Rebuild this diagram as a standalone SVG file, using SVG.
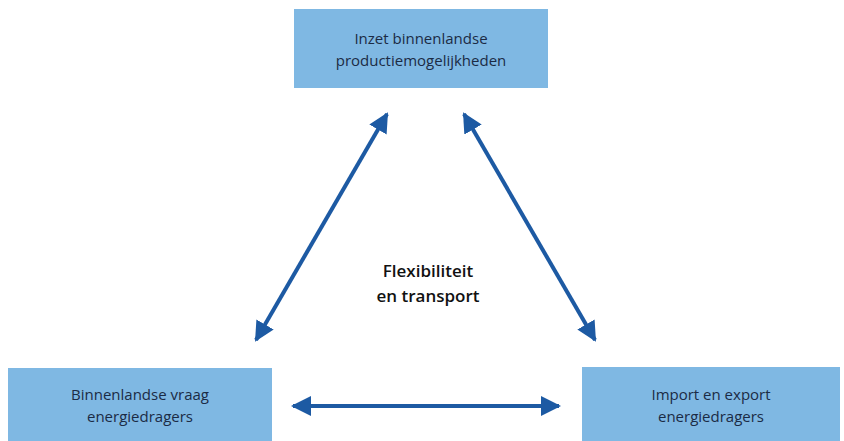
<svg xmlns="http://www.w3.org/2000/svg" width="844" height="441" viewBox="0 0 844 441">
<style>
.box{fill:#7fb8e3;}
.t{font-family:"Open Sans","Liberation Sans",sans-serif;font-size:15px;fill:#1b2b45;text-anchor:middle;}
.c{font-family:"Open Sans","Liberation Sans",sans-serif;font-size:17px;font-weight:600;fill:#111;text-anchor:middle;}
.ln{stroke:#1d5aa3;stroke-width:4;fill:none;marker-start:url(#ah);marker-end:url(#ah);}
</style>
<defs>
<marker id="ah" viewBox="0 0 10 10" refX="9" refY="5" markerWidth="5" markerHeight="5" orient="auto-start-reverse" markerUnits="strokeWidth">
<path d="M0,0 L10,5 L0,10 z" fill="#1d5aa3"/>
</marker>
</defs>
<rect width="844" height="441" fill="#fff"/>
<g id="top">
<rect class="box" x="294" y="9" width="254" height="79"/>
<text class="t" x="421" y="44">Inzet binnenlandse</text>
<text class="t" x="421" y="66">productiemogelijkheden</text>
</g>
<g id="left">
<rect class="box" x="8" y="368" width="264" height="73"/>
<text class="t" x="140" y="400">Binnenlandse vraag</text>
<text class="t" x="140" y="422">energiedragers</text>
</g>
<g id="right">
<rect class="box" x="582" y="367" width="258" height="74"/>
<text class="t" x="711" y="400">Import en export</text>
<text class="t" x="711" y="422">energiedragers</text>
</g>
<g id="center">
<text class="c" x="428" y="277">Flexibiliteit</text>
<text class="c" x="428" y="302">en transport</text>
</g>
<g id="connectors">
<line class="ln" x1="256" y1="340" x2="387" y2="114"/>
<line class="ln" x1="464" y1="114" x2="595" y2="340"/>
<line class="ln" x1="293" y1="406" x2="559" y2="406"/>
</g>
</svg>
